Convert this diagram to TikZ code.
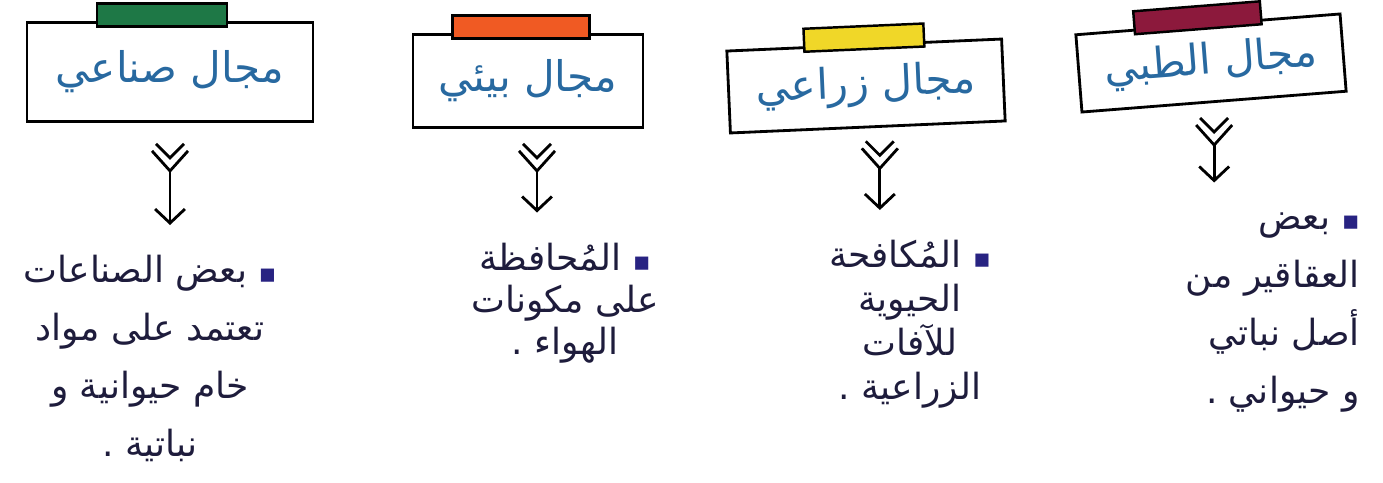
\documentclass[tikz,border=0pt]{standalone}
\usepackage{fontspec}
\setmainfont{DejaVu Sans}
\newfontfamily\arabicfont[Script=Arabic]{DejaVu Sans}
\TeXXeTstate=1
\usetikzlibrary{arrows.meta}
\definecolor{tabgreen}{RGB}{30,120,70}
\definecolor{taborange}{RGB}{240,90,35}
\definecolor{tabyellow}{RGB}{240,215,40}
\definecolor{tabwine}{RGB}{140,25,60}
\definecolor{inkblue}{RGB}{40,105,160}
\definecolor{inkdark}{RGB}{30,28,60}
\definecolor{dotblue}{RGB}{40,35,130}
\newcommand{\bul}{\ {\fontsize{15}{15}\selectfont\textcolor{dotblue}{▪}}}

\begin{document}
\begin{tikzpicture}[
	card/.style={draw, line width=1.6pt, inner sep=0pt, text=inkblue,
		font=\arabicfont\fontsize{24}{28}\selectfont},
	tab/.style={draw, line width=1.4pt, inner sep=0pt, minimum height=.46cm},
	note/.style={text=inkdark, inner sep=0pt, align=center,
		font=\arabicfont\fontsize{20.5}{#1}\selectfont},
	flow/.style={line width=1.6pt, -{Straight Barb[length=8pt,width=17pt]}, shorten >=.6cm},
	fletch/.pic={
		\draw[line width=1.6pt] (-.28,0) -- (0,-.28) -- (.28,0);
		\draw[line width=1.6pt] (-.36,-.14) -- (0,-.54) -- (.36,-.14);}
	]
	% frame
	\useasboundingbox (0,0) rectangle (27.66,-9.64);
	
	% draw boxes
	\node[card, minimum width=5.72cm, minimum height=1.98cm] (sina) at (3.40,-1.44) {\beginR مجال صناعي\endR};
	\node[card, minimum width=4.6cm, minimum height=1.86cm] (biaa) at (10.56,-1.62) {\beginR مجال بيئي\endR};
	\node[card, minimum width=5.5cm, minimum height=1.64cm, rotate=2.5] (ziraa) at (17.32,-1.72) {\beginR مجال زراعي\endR};
	\node[card, minimum width=5.3cm, minimum height=1.55cm, rotate=4.5] (tibb) at (24.22,-1.26) {\beginR مجال الطبي\endR};
	
	% draw tabs
	\node[tab, fill=tabgreen, minimum width=2.6cm, xshift=-.16cm, yshift=.12cm] (sinatab) at (sina.north) {};
	\node[tab, fill=taborange, minimum width=2.74cm, xshift=-.14cm, yshift=.12cm] (biaatab) at (biaa.north) {};
	\node[tab, fill=tabyellow, minimum width=2.4cm, rotate=2.5, yshift=.12cm] (ziraatab) at (ziraa.north) {};
	\node[tab, fill=tabwine, minimum width=2.54cm, rotate=4.5, xshift=-.2cm, yshift=.12cm] (tibbtab) at (tibb.north) {};
	
	% draw notes
	\node[note=33pt, anchor=north] (sinatxt) at (3.0,-5.1) {\beginR بعض الصناعات\endR\bul\\ \beginR تعتمد على مواد\endR\\ \beginR خام حيوانية و\endR\\ \beginR نباتية .\endR};
	\node[note=24pt, anchor=north] (biaatxt) at (11.3,-4.85) {\beginR المُحافظة\endR\bul\\ \beginR على مكونات\endR\\ \beginR الهواء .\endR};
	\node[note=25pt, anchor=north] (ziraatxt) at (18.2,-4.8) {\beginR المُكافحة\endR\bul\\ \beginR الحيوية\endR\\ \beginR للآفات\endR\\ \beginR الزراعية .\endR};
	\node[note=33pt, anchor=north east, align=right] (tibbtxt) at (27.2,-4.25) {\beginR بعض\endR\bul\\ \beginR العقاقير من\endR\\ \beginR أصل نباتي\endR\\ \beginR و حيواني .\endR};
	
	% draw arrows
	\path (sina.south) ++(0,-.42) pic {fletch} ++(0,-.54) coordinate (sinatop);
	\path (biaa.south) ++(.18,-.3) pic {fletch} ++(0,-.54) coordinate (biaatop);
	\path (ziraa.south) ++(.24,-.26) pic {fletch} ++(0,-.54) coordinate (ziraatop);
	\path (tibb.south) ++(0,-.3) pic {fletch} ++(0,-.54) coordinate (tibbtop);
	\draw[flow] (sinatop) -- (sinatop |- sinatxt.north);
	\draw[flow] (biaatop) -- (biaatop |- biaatxt.north);
	\draw[flow] (ziraatop) -- (ziraatop |- ziraatxt.north);
	\draw[flow] (tibbtop) -- (tibbtop |- tibbtxt.north);
\end{tikzpicture}
\end{document}
